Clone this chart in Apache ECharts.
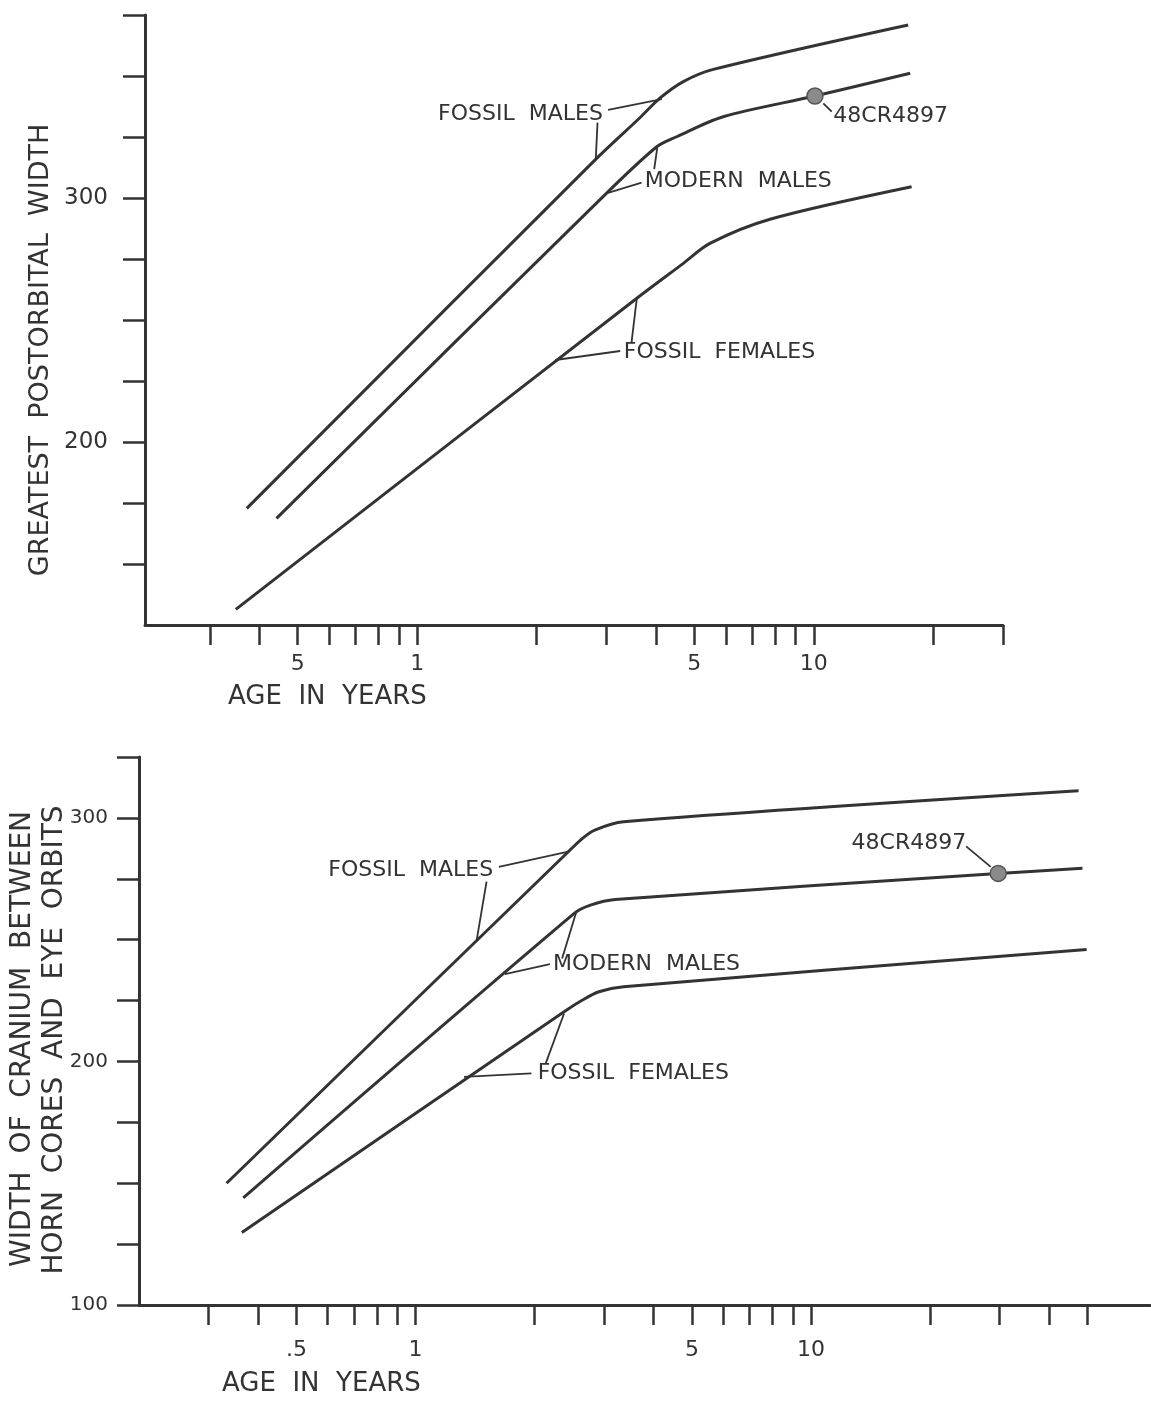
<!DOCTYPE html>
<html><head><meta charset="utf-8">
<script src="https://cdn.jsdelivr.net/npm/echarts@6/dist/echarts.min.js"></script>
<style>html,body{margin:0;padding:0;background:#fff}#c{width:1151px;height:1405px}</style>
</head><body><div id="c"></div>
<script>
// ---------------- DATA ----------------
// x ticks / labels (age in years, log scale)
const ageTicksTop = [0.3,0.4,0.5,0.6,0.7,0.8,0.9,1,2,3,4,5,6,7,8,9,10,20,30];
const ageTicksBottom = [0.3,0.4,0.5,0.6,0.7,0.8,0.9,1,2,3,4,5,6,7,8,9,10,20,30,40,50];
const ageLabelValues = [0.5,1,5,10];
const ageLabelTop = ['5','1','5','10'];
const ageLabelBottom = ['.5','1','5','10'];
const widthTicksTop = [150,175,200,225,250,275,300,325,350,375];
const widthTicksBottom = [100,125,150,175,200,225,250,275,300,325];
const widthLabelsTop = [200,300];
const widthLabelsBottom = [100,200,300];

// Top panel: greatest postorbital width  [age, width]
const postorbitalFossilMales = [[0.372,172.8],[2.81,315.6],[3.65,333],[4.1,341],[4.69,347.7],[5.58,352.7],[17.3,370.9]];
const postorbitalModernMales = [[0.442,168.7],[3.0,301.9],[4.02,321.0],[4.51,325.1],[5.91,333.3],[10.07,341.8],[17.5,351.1]];
const postorbitalFossilFemales = [[0.349,131.4],[3.58,258.9],[4.69,273.2],[5.47,281.4],[7.76,291.3],[17.65,304.6]];
const postorbitalSpecimen = [[10.07,341.8]];

// Bottom panel: width of cranium between horn cores and eye orbits
const craniumFossilMales = [[0.333,150.0],[2.435,286.1],[2.645,291.6],[2.84,295.0],[3.36,298.4],[47.5,311.1]];
const craniumModernMales = [[0.367,144.0],[2.52,260.8],[2.77,264.2],[3.2,266.5],[29.75,277.2],[48.6,279.3]];
const craniumFossilFemales = [[0.364,129.8],[2.376,220.4],[2.645,225.2],[2.91,228.6],[3.36,230.7],[49.8,246.0]];
const craniumSpecimen = [[29.75,277.2]];

// Annotations (anchors in data space)
const annLabels = ['FOSSIL  MALES','MODERN  MALES','FOSSIL  FEMALES','48CR4897'];
const annTopAnchors = [[2.94,334.4],[3.75,306.7],[3.32,236.6],[11.2,333.6]];
const annTopLeaders = [
  [[[3.03,336.1],[4.14,340.5]], [[2.85,330.9],[2.82,315.5]]],
  [[[3.68,306.3],[3.0,301.9]], [[3.96,311.8],[4.03,320.4]]],
  [[[3.25,237.3],[2.23,233.6]], [[3.47,240.5],[3.58,258.9]]],
  [[[10.57,338.8],[11.1,335.4]]]
];
const annBottomAnchors = [[1.572,278.6],[2.228,240.0],[2.037,195.1],[24.69,289.5]];
const annBottomLeaders = [
  [[[1.625,279.9],[2.435,286.1]], [[1.513,273.8],[1.426,249.1]]],
  [[[2.188,240.0],[1.684,235.9]], [[2.349,242.3],[2.552,261.5]]],
  [[[1.965,195.1],[1.327,193.7]], [[2.135,199.2],[2.376,219.7]]],
  [[[24.69,288.3],[28.49,279.9]]]
];

// ---------------- CHART ----------------
const INK = '#333';
const FONT = '"DejaVu Sans", sans-serif';
const chart = echarts.init(document.getElementById('c'), null, {renderer:'canvas'});

function makeX(gi, min, max, ticks, labelTexts, margin) {
  return {
    type:'log', logBase:10, gridIndex:gi, min:min, max:max,
    axisLine:{show:true, onZero:false, lineStyle:{color:INK, width:3}},
    axisTick:{show:true, inside:false, length:20, customValues:ticks, lineStyle:{color:INK, width:2.5}},
    axisLabel:{show:true, customValues:ageLabelValues, margin:margin, color:INK, fontFamily:FONT, fontSize:22,
      formatter: function(v){ for (let i=0;i<ageLabelValues.length;i++){ if (Math.abs(ageLabelValues[i]-v)/ageLabelValues[i] < 1e-3) return labelTexts[i]; } return ''; }},
    splitLine:{show:false}, minorTick:{show:false}, minorSplitLine:{show:false}
  };
}
function makeY(gi, min, max, ticks, labels, margin, fs) {
  return {
    type:'value', gridIndex:gi, min:min, max:max, interval:25,
    axisLine:{show:true, onZero:false, lineStyle:{color:INK, width:3}},
    axisTick:{show:true, inside:false, length:22, customValues:ticks, lineStyle:{color:INK, width:2.5}},
    axisLabel:{show:true, customValues:labels, margin:margin, color:INK, fontFamily:FONT, fontSize:fs},
    splitLine:{show:false}
  };
}
function lineS(gi, data) {
  return {type:'line', xAxisIndex:gi, yAxisIndex:gi, data:data, symbol:'none', showSymbol:false,
    smooth:0.3, lineStyle:{color:INK, width:3}, silent:true, z:3};
}
function dotS(gi, data) {
  return {type:'scatter', xAxisIndex:gi, yAxisIndex:gi, data:data, symbol:'circle', symbolSize:16,
    itemStyle:{color:'#8a8a8a', borderColor:'#555', borderWidth:1.5, opacity:1}, silent:true, z:6};
}
function annS(gi, anchors, leaders, aligns) {
  return {
    type:'custom', xAxisIndex:gi, yAxisIndex:gi, silent:true, clip:false, z:5,
    data: anchors.map(a => [a[0], a[1]]),
    renderItem: function(params, api) {
      const i = params.dataIndex;
      const p = api.coord(anchors[i]);
      const children = [{type:'text', style:{text:annLabels[i], x:p[0], y:p[1], align:aligns[i], verticalAlign:'middle',
        fontSize:22, fontFamily:FONT, fill:INK}}];
      leaders[i].forEach(seg => {
        const a = api.coord(seg[0]), b = api.coord(seg[1]);
        children.push({type:'line', shape:{x1:a[0],y1:a[1],x2:b[0],y2:b[1]}, style:{stroke:INK, lineWidth:1.8}});
      });
      return {type:'group', children:children};
    }
  };
}

const option = {
  backgroundColor:'#fff',
  animation:false,
  grid:[
    {left:145, top:15, width:858, height:610},
    {left:139, top:757, width:1011, height:548}
  ],
  xAxis:[ makeX(0, 0.206, 30, ageTicksTop, ageLabelTop, 28), makeX(1, 0.2, 72, ageTicksBottom, ageLabelBottom, 34) ],
  yAxis:[ makeY(0, 125, 375, widthTicksTop, widthLabelsTop, 37, 23), makeY(1, 100, 325, widthTicksBottom, widthLabelsBottom, 31, 20) ],
  graphic:[
    {type:'text', x:41, y:350, rotation:Math.PI/2, style:{text:'GREATEST  POSTORBITAL  WIDTH', align:'center', verticalAlign:'middle', fontSize:27, fontFamily:FONT, fill:INK}},
    {type:'text', x:23, y:1039, rotation:Math.PI/2, style:{text:'WIDTH  OF  CRANIUM  BETWEEN', align:'center', verticalAlign:'middle', fontSize:28, fontFamily:FONT, fill:INK}},
    {type:'text', x:55, y:1040, rotation:Math.PI/2, style:{text:'HORN  CORES  AND  EYE  ORBITS', align:'center', verticalAlign:'middle', fontSize:28, fontFamily:FONT, fill:INK}},
    {type:'text', x:228, y:697, style:{text:'AGE  IN  YEARS', align:'left', verticalAlign:'middle', fontSize:26, fontFamily:FONT, fill:INK}},
    {type:'text', x:222, y:1384, style:{text:'AGE  IN  YEARS', align:'left', verticalAlign:'middle', fontSize:26, fontFamily:FONT, fill:INK}}
  ],
  series:[
    lineS(0, postorbitalFossilMales), lineS(0, postorbitalModernMales), lineS(0, postorbitalFossilFemales),
    dotS(0, postorbitalSpecimen),
    annS(0, annTopAnchors, annTopLeaders, ['right','left','left','left']),
    lineS(1, craniumFossilMales), lineS(1, craniumModernMales), lineS(1, craniumFossilFemales),
    dotS(1, craniumSpecimen),
    annS(1, annBottomAnchors, annBottomLeaders, ['right','left','left','right'])
  ]
};
chart.setOption(option);
</script>
</body></html>
